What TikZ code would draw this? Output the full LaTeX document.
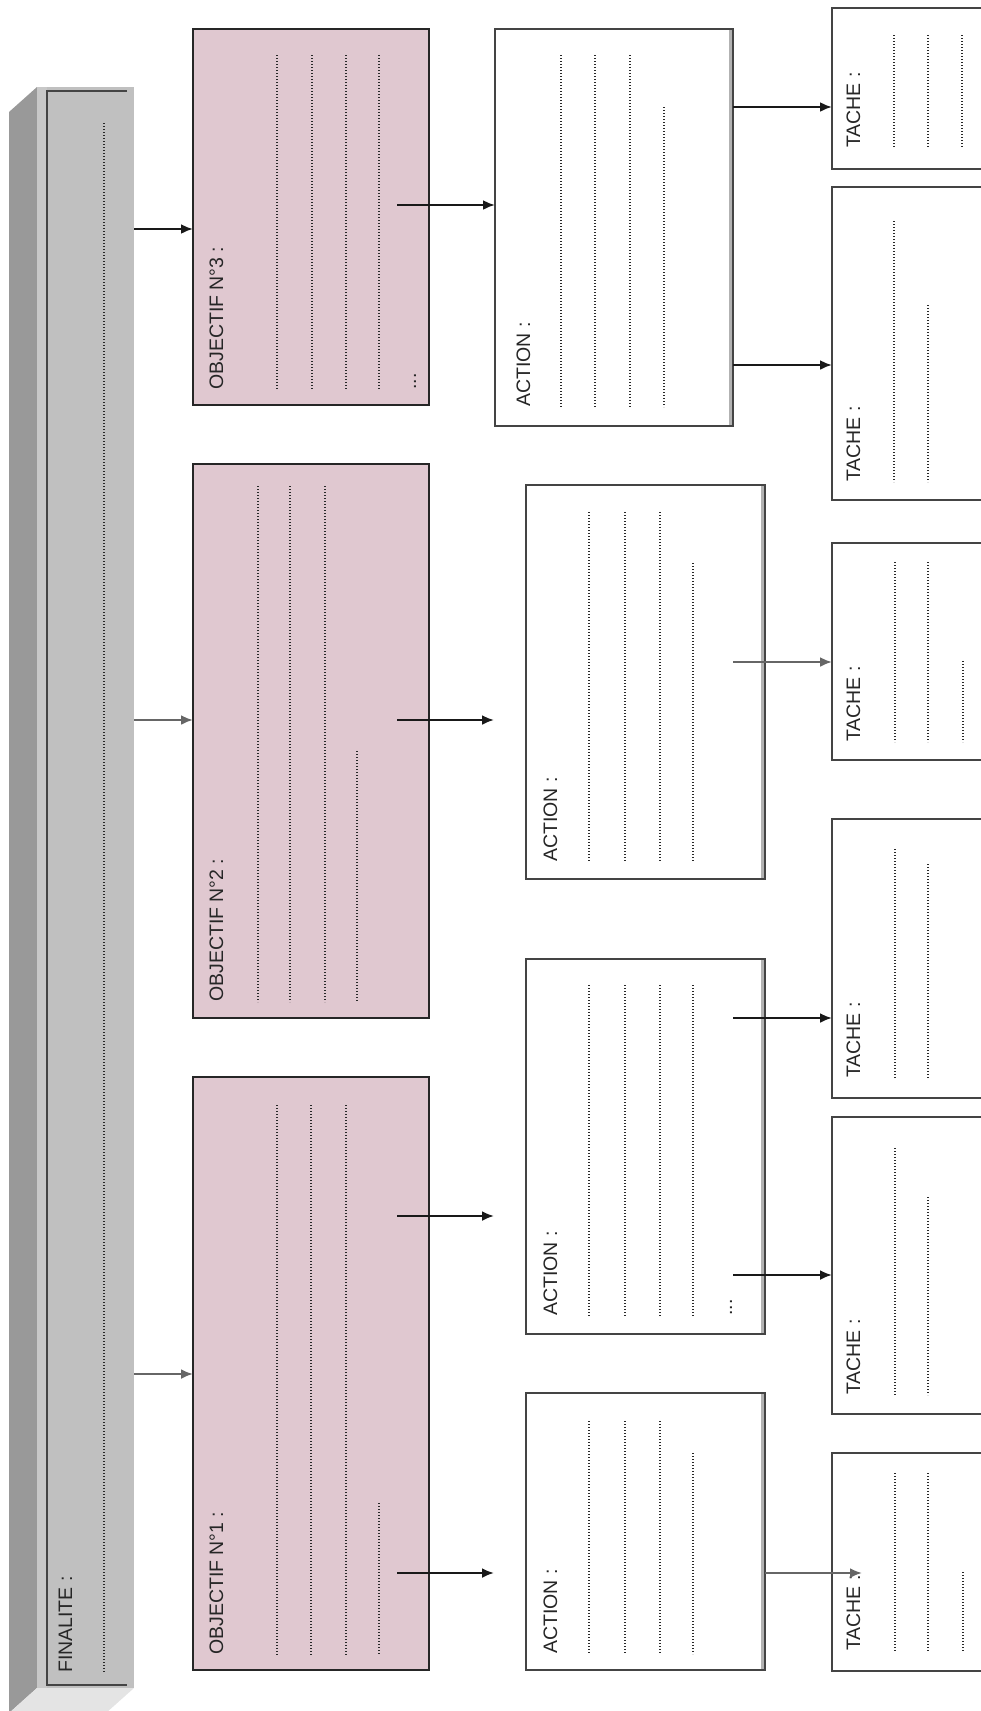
\documentclass[tikz,border=0pt]{standalone}
\usepackage{fontspec}
\setmainfont{Liberation Sans}
\usetikzlibrary{arrows.meta}
\definecolor{pinkfill}{RGB}{224,200,208}
\definecolor{finfront}{RGB}{192,192,192}
\definecolor{finstrip}{RGB}{200,200,200}
\definecolor{finside}{RGB}{153,153,153}
\definecolor{finbottom}{RGB}{228,228,228}
\definecolor{bordr}{RGB}{68,68,68}
\definecolor{dotc}{RGB}{40,40,40}
\begin{document}
\begin{tikzpicture}[x=1pt,y=-1pt,
  box/.style={anchor=north west, inner sep=0pt, outer sep=0pt, line width=2pt, draw=bordr},
  objbox/.style={box, fill=pinkfill, draw=black!85, line width=2.4pt},
  actbox/.style={box, fill=white},
  tachebox/.style={box, fill=white},
  finbox/.style={anchor=north west, inner sep=0pt, outer sep=0pt, fill=finfront},
  lab/.style={rotate=90, anchor=base west, inner sep=0pt, font=\fontsize{19.5}{22}\selectfont, text=black!85},
  dotl/.style={line width=1.5pt, dotc, dash pattern=on 1.4pt off 1.6pt},
  shade/.style={line width=3pt, black!30},
  arr/.style={line width=2.3pt, -{Latex[length=12pt,width=10pt]}, black!90},
  arrg/.style={arr, black!60}
]
\useasboundingbox (0,0) rectangle (981,1711);
\clip (0,0) rectangle (981,1711);

% ---------- FINALITE (3D bar)
\fill[finside] (37,87) -- (9,112) -- (9,1713) -- (37,1688) -- cycle;
\fill[finbottom] (37,1688) -- (134,1688) -- (106,1713) -- (9,1713) -- cycle;
\node[finbox, minimum width=97pt, minimum height=1601pt] (fin) at (37,87) {};
\fill[finstrip] (37,87) rectangle (47,1688);
\draw[bordr, line width=1.6pt] (127,91) -- (47,91) -- (47,1685) -- (127,1685);
\node[lab] (fint) at (72,1673) {FINALITE :};
\draw[dotl] (104,123) -- (104,1673);

% ---------- OBJECTIFS
\node[objbox, minimum width=236pt, minimum height=376pt] (o3) at (193,29) {};
\node[objbox, minimum width=236pt, minimum height=554pt] (o2) at (193,464) {};
\node[objbox, minimum width=236pt, minimum height=593pt] (o1) at (193,1077) {};
\node[lab] (o3t) at (223,390) {OBJECTIF N°3 :};
\node[lab] (o2t) at (223,1002) {OBJECTIF N°2 :};
\node[lab] (o1t) at (223,1655) {OBJECTIF N°1 :};
\foreach \x in {277,312,346,379} \draw[dotl] (\x,55) -- (\x,390);
\node[lab] (o3d) at (416,390) {...};
\foreach \x in {258,290,325} \draw[dotl] (\x,486) -- (\x,1002);
\draw[dotl] (357,751) -- (357,1002);
\foreach \x in {277,311,346} \draw[dotl] (\x,1105) -- (\x,1655);
\draw[dotl] (379,1503) -- (379,1655);

% ---------- ACTIONS
\node[actbox, minimum width=238pt, minimum height=397pt] (a3) at (495,29) {};
\node[actbox, minimum width=239pt, minimum height=394pt] (a2b) at (526,485) {};
\node[actbox, minimum width=239pt, minimum height=375pt] (a2a) at (526,959) {};
\node[actbox, minimum width=239pt, minimum height=277pt] (a1) at (526,1393) {};
\foreach \b in {a3,a2b,a2a,a1}
  \draw[shade] ([xshift=-2.5pt,yshift=-1pt]\b.north east) -- ([xshift=-2.5pt,yshift=1pt]\b.south east);
\node[lab] (a3t) at (530,407) {ACTION :};
\node[lab] (a2bt) at (557,862) {ACTION :};
\node[lab] (a2at) at (557,1316) {ACTION :};
\node[lab] (a1t) at (557,1654) {ACTION :};
\foreach \x in {561,595,630} \draw[dotl] (\x,55) -- (\x,407);
\draw[dotl] (664,107) -- (664,407);
\foreach \x in {589,625,660} \draw[dotl] (\x,512) -- (\x,862);
\draw[dotl] (693,563) -- (693,862);
\foreach \x in {589,625,660,693} \draw[dotl] (\x,985) -- (\x,1316);
\node[lab] (a2ad) at (732,1316) {...};
\foreach \x in {589,625,660} \draw[dotl] (\x,1421) -- (\x,1654);
\draw[dotl] (693,1453) -- (693,1654);

% ---------- TACHES
\node[tachebox, minimum width=170pt, minimum height=161pt] (t3b) at (832,8) {};
\node[tachebox, minimum width=170pt, minimum height=313pt] (t3a) at (832,187) {};
\node[tachebox, minimum width=170pt, minimum height=217pt] (t2b) at (832,543) {};
\node[tachebox, minimum width=170pt, minimum height=279pt] (t2a) at (832,819) {};
\node[tachebox, minimum width=170pt, minimum height=297pt] (t1b) at (832,1117) {};
\node[tachebox, minimum width=170pt, minimum height=218pt] (t1a) at (832,1453) {};
\node[lab] (t3bt) at (860,148) {TACHE :};
\node[lab] (t3at) at (860,482) {TACHE :};
\node[lab] (t2bt) at (860,742) {TACHE :};
\node[lab] (t2at) at (860,1078) {TACHE :};
\node[lab] (t1bt) at (860,1395) {TACHE :};
\node[lab] (t1at) at (860,1651) {TACHE :};
\foreach \x in {894,928,962} \draw[dotl] (\x,35) -- (\x,148);
\draw[dotl] (894,221) -- (894,482);
\draw[dotl] (928,305) -- (928,482);
\foreach \x in {895,928} \draw[dotl] (\x,562) -- (\x,742);
\draw[dotl] (963,661) -- (963,742);
\draw[dotl] (895,849) -- (895,1078);
\draw[dotl] (928,864) -- (928,1078);
\draw[dotl] (895,1148) -- (895,1395);
\draw[dotl] (928,1197) -- (928,1395);
\foreach \x in {895,928} \draw[dotl] (\x,1473) -- (\x,1651);
\draw[dotl] (963,1572) -- (963,1651);

% ---------- connectors
\coordinate (f3) at (134,229);
\coordinate (f2) at (134,720);
\coordinate (f1) at (134,1374);
\draw[arr]  (f3) -- (f3 -| o3.west);
\draw[arrg] (f2) -- (f2 -| o2.west);
\draw[arrg] (f1) -- (f1 -| o1.west);

\coordinate (s3) at (397,205);
\coordinate (s2) at (397,720);
\coordinate (e2) at (494,720);
\coordinate (s1a) at (397,1216);
\coordinate (e1a) at (494,1216);
\coordinate (s1b) at (397,1573);
\coordinate (e1b) at (494,1573);
\draw[arr] (s3) -- (s3 -| a3.west);
\draw[arr] (s2) -- (e2);
\draw[arr] (s1a) -- (e1a);
\draw[arr] (s1b) -- (e1b);

\coordinate (p3b) at (733,107);
\coordinate (p3a) at (733,365);
\coordinate (p2b) at (733,662);
\coordinate (p2a) at (733,1018);
\coordinate (p1b) at (733,1275);
\coordinate (p1a) at (765,1573);
\coordinate (q1a) at (862,1573);
\draw[arr]  (p3b) -- (p3b -| t3b.west);
\draw[arr]  (p3a) -- (p3a -| t3a.west);
\draw[arrg] (p2b) -- (p2b -| t2b.west);
\draw[arr]  (p2a) -- (p2a -| t2a.west);
\draw[arr]  (p1b) -- (p1b -| t1b.west);
\draw[arrg] (p1a) -- (q1a);
\end{tikzpicture}
\end{document}
